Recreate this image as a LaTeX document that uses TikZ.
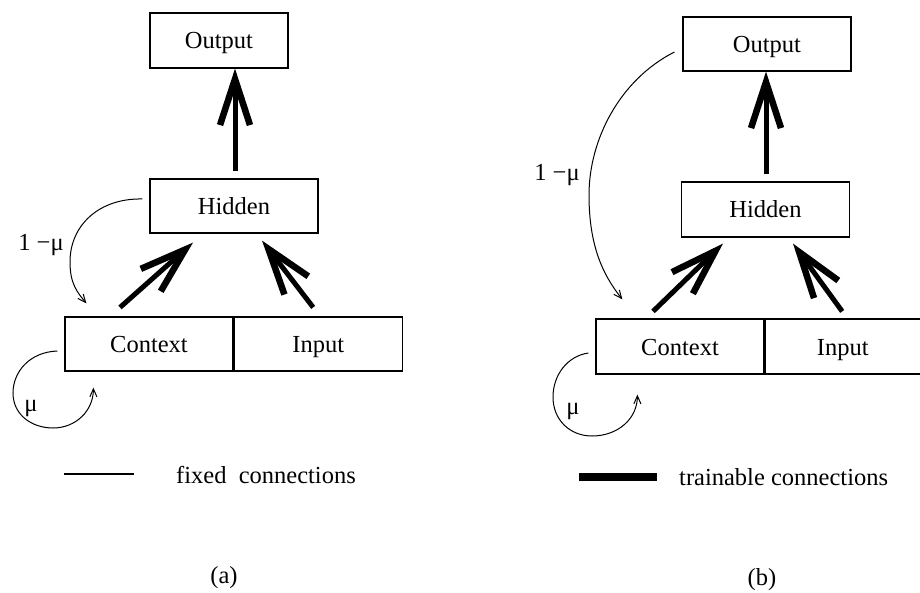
\documentclass[tikz,border=0pt]{standalone}
\usepackage{fontspec}
\setmainfont{Liberation Serif}
\usetikzlibrary{arrows.meta}
\begin{document}
\begin{tikzpicture}[x=1pt, y=-1pt,
  lbl/.style={font=\fontsize{24.5}{28}\selectfont, inner sep=0pt},
  unit/.style={draw, line width=1.2pt, minimum height=54pt, minimum width=168pt,
               inner sep=0pt, lbl, text height=19pt, text depth=2pt},
  train/.style={line width=5pt,
                -{Straight Barb[sharp, length=46pt, width=30pt, line width=6.5pt]}},
  fixedc/.style={line width=1pt, -{Straight Barb[length=8pt, width=7pt]}},
]
\useasboundingbox (0,0) rectangle (920,593);

% ---------------- network (a) ----------------
\node[unit, minimum width=138pt, minimum height=55pt] (outA) at (219,40.5) {Output};
\node[unit] (hidA) at (234,206) {Hidden};
\node[unit] (ctxA) at (149,344) {Context};
\node[unit, anchor=west] (inA) at (ctxA.east) {Input};

\coordinate (hA) at ([shift={(1,-7)}]hidA.north);
\draw[train] (hA) -- (hA |- outA.south);
\draw[train] ([shift={(-29,-9)}]ctxA.north) -- ([shift={(-41,9)}]hidA.south);
\draw[train] ([shift={(-5,-9)}]inA.north) -- ([shift={(28,7)}]hidA.south);

% copy of the hidden layer into the context units
\draw[fixedc] ([shift={(-7,-7)}]hidA.west)
  .. controls +(-43,-1) and +(0,-37) .. (70,262)
  .. controls +(0,22) and +(-9,-11) .. ([shift={(22,-13)}]ctxA.north west);
\node[lbl] (wA) at (41,245) {1 −μ};

% self-recurrent context loop
\draw[fixedc] ([shift={(-7,7)}]ctxA.west)
  .. controls +(-28,1) and +(0,-21) .. (13,393)
  .. controls +(0,22) and +(-21,0) .. (53,428)
  .. controls +(23,0) and +(0,23) .. ([shift={(29,16)}]ctxA.south west);
\node[lbl] (mA) at (31,408) {μ};

% legend
\coordinate (fxL) at (64,474);
\coordinate (fxR) at (134,474);
\draw[line width=1.2pt] (fxL) -- (fxR);
\node[lbl, anchor=west] (fxT) at (176,475) {fixed~ connections};
\node[lbl] (capA) at (224,578) {(a)};

% ---------------- network (b) ----------------
\node[unit] (outB) at (767,44) {Output};
\node[unit, minimum height=55pt] (hidB) at (765.5,209.5) {Hidden};
\node[unit, minimum height=55pt] (ctxB) at (680,346.5) {Context};
\node[unit, minimum height=55pt, minimum width=155pt, anchor=west] (inB) at (ctxB.east) {Input};

\coordinate (hB) at ([shift={(0.5,-7)}]hidB.north);
\draw[train] (hB) -- (hB |- outB.south);
\draw[train] ([shift={(-27,-7)}]ctxB.north) -- ([shift={(-42.5,6)}]hidB.south);
\draw[train] ([shift={(-0.5,-7)}]inB.north) -- ([shift={(27.5,6)}]hidB.south);

% copy of the output layer into the context units
\draw[fixedc] ([shift={(-8,8)}]outB.west)
  .. controls +(-55,28) and +(0,-55) .. (589,195)
  .. controls +(0,50) and +(-20,-25) .. ([shift={(27,-19)}]ctxB.north west);
\node[lbl] (wB) at (557,175) {1 −μ};

% self-recurrent context loop
\draw[fixedc] ([shift={(-7,6.5)}]ctxB.west)
  .. controls +(-21,3) and +(0,-22) .. (553,397)
  .. controls +(0,23) and +(-22,0) .. (592,436)
  .. controls +(26,0) and +(0,24) .. ([shift={(42,20)}]ctxB.south west);
\node[lbl] (mB) at (573,411) {μ};

% legend
\coordinate (trL) at (579,477);
\coordinate (trR) at (657,477);
\draw[line width=8pt] (trL) -- (trR);
\node[lbl, anchor=west] (trT) at (679,477) {trainable connections};
\node[lbl] (capB) at (762,580) {(b)};
\end{tikzpicture}
\end{document}
